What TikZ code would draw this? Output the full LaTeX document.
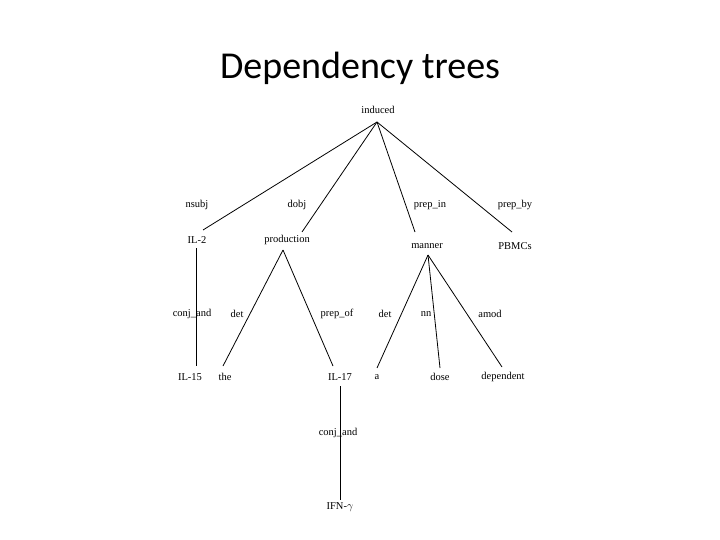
\documentclass[tikz,border=0pt]{standalone}
\usepackage{fontspec}
\setmainfont{Liberation Serif}
\newfontfamily\titlefont{Carlito}
\begin{document}
\begin{tikzpicture}[x=1pt,y=-1pt,
  w/.style={inner sep=1pt,font=\fontsize{10.5}{12}\selectfont},
  lab/.style={inner sep=1pt,font=\fontsize{10.5}{12}\selectfont},
  edge/.style={draw=black,line width=0.8pt}]
\useasboundingbox (0,0) rectangle (720,540);
\node[font=\titlefont\fontsize{38}{44}\selectfont] (title) at (360,68) {Dependency trees};
\node[w] (induced) at (378,110) {induced};
\coordinate (r) at (377,122);
\node[w] (il2) at (197,240) {IL-2};
\node[w] (prod) at (287,240) {production};
\node[w] (manner) at (427,246) {manner};
\node[w] (pbmc) at (515,246) {PBMCs};
\coordinate (e1) at (203,230);
\coordinate (e2) at (302,232);
\coordinate (e3) at (415,232);
\coordinate (e4) at (512,232);
\draw[edge] (r) -- (e1); \draw[edge] (r) -- (e2); \draw[edge] (r) -- (e3); \draw[edge] (r) -- (e4);
\node[lab] at (197,205) {nsubj};
\node[lab] at (297,205) {dobj};
\node[lab] at (430,205) {prep\_in};
\node[lab] at (515,205) {prep\_by};
\node[w] (il15) at (190,377) {IL-15};
\node[w] (the) at (225,377) {the};
\node[w] (il17) at (340,377) {IL-17};
\node[w] (a) at (377,377) {a};
\node[w] (dose) at (440,377) {dose};
\node[w] (dep) at (503,377) {dependent};
\node[w] (ifn) at (340,507) {IFN-$\gamma$};
\coordinate (p) at (283,250);
\coordinate (m) at (428,255);
\draw[edge] (196,248) -- (196,366);
\draw[edge] (p) -- (223,366); \draw[edge] (p) -- (333,366);
\draw[edge] (m) -- (377,368); \draw[edge] (m) -- (440,368); \draw[edge] (m) -- (502,367);
\draw[edge] (340,386) -- (340,500);
\node[lab] at (192,314) {conj\_and};
\node[lab] at (237,314) {det};
\node[lab] at (337,314) {prep\_of};
\node[lab] at (385,314) {det};
\node[lab] at (426,314) {nn};
\node[lab] at (490,314) {amod};
\node[lab] at (338,433) {conj\_and};
\end{tikzpicture}
\end{document}
